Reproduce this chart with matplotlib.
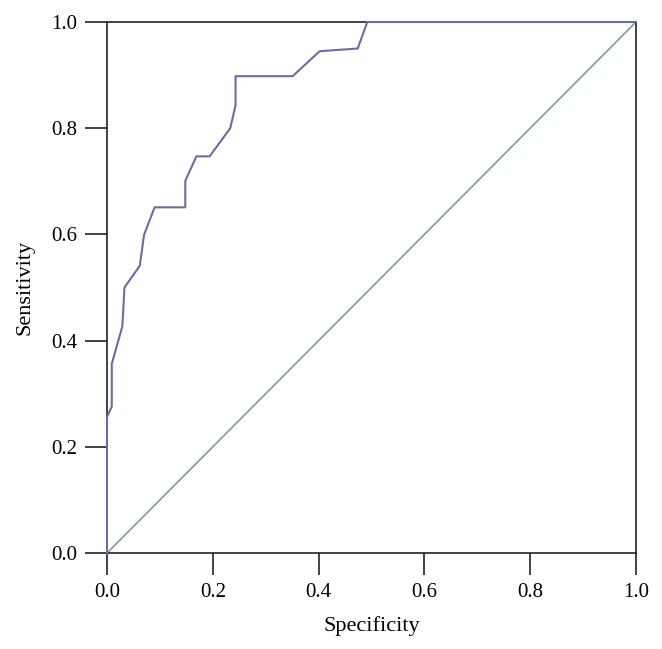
import matplotlib
matplotlib.use("Agg")
import matplotlib.pyplot as plt

# ROC curve points
fpr = [0.0, 0.0, 0.009, 0.009, 0.029, 0.033, 0.062, 0.070, 0.090, 0.148, 0.148,
       0.169, 0.194, 0.233, 0.243, 0.243, 0.351, 0.402, 0.474, 0.492, 1.0]
tpr = [0.0, 0.256, 0.276, 0.356, 0.427, 0.500, 0.541, 0.599, 0.651, 0.651, 0.701,
       0.747, 0.747, 0.800, 0.843, 0.898, 0.898, 0.945, 0.950, 1.0, 1.0]
ref_x = [0.0, 1.0]
ref_y = [0.0, 1.0]
ticks = [0.0, 0.2, 0.4, 0.6, 0.8, 1.0]
tick_labels = ["0.0", "0.2", "0.4", "0.6", "0.8", "1.0"]

plt.rcParams['font.family'] = ['Liberation Serif', 'DejaVu Serif']

fig = plt.figure(figsize=(6.62, 6.49), dpi=100)
ax = fig.add_axes([107/662, 1-553/649, (636-107)/662, (553-22)/649])

ax.plot(ref_x, ref_y, color='#82a88f', lw=1.3, clip_on=False, zorder=2)
ax.plot(fpr, tpr, color='#6a6e9e', lw=1.5, clip_on=False, zorder=3)

ax.set_xlim(0, 1)
ax.set_ylim(0, 1)
ax.set_xticks(ticks)
ax.set_xticklabels(tick_labels)
ax.set_yticks(ticks)
ax.set_yticklabels(tick_labels)
ax.tick_params(direction='out', length=15.5, width=1.2, labelsize=15, pad=6, color='#222222')
for s in ax.spines.values():
    s.set_linewidth(1.2)
    s.set_color('#222222')

ax.set_xlabel("Specificity", fontsize=16, labelpad=10)
ax.set_ylabel("Sensitivity", fontsize=16, labelpad=12)

fig.savefig("out.png", dpi=100)
